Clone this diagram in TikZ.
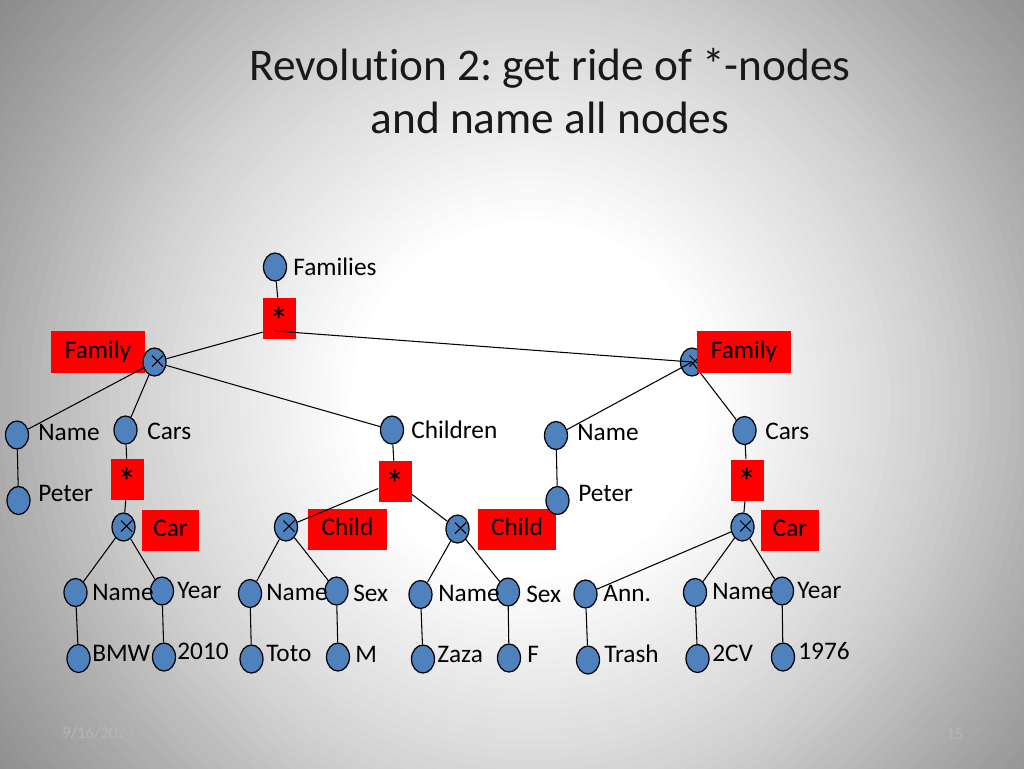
\documentclass[tikz,border=0pt]{standalone}
\usepackage{fontspec}
\setmainfont{Carlito}[Ligatures=NoCommon]
\usetikzlibrary{shapes.geometric}
\pgfdeclarelayer{bgl}\pgfdeclarelayer{boxl}\pgfdeclarelayer{linel}
\pgfsetlayers{bgl,boxl,linel,main}
\definecolor{nodeblue}{RGB}{79,129,189}
\definecolor{footgray}{RGB}{182,182,182}
\newcommand\labfont{\fontsize{14.4}{17}\selectfont}
\newcommand\starfont{\fontsize{22}{24}\selectfont}
\newcommand\titlefont{\fontsize{25.8}{31}\selectfont}
\newcommand\footfont{\fontsize{9.5}{11}\selectfont}
\newcommand\starmark{\raisebox{-0.24em}{*}}
\frenchspacing
\begin{document}
\begin{tikzpicture}[x=0.02cm,y=-0.02cm,
 bn/.style={ellipse, draw=black, line width=0.7pt, fill=nodeblue, minimum width=0.46cm, minimum height=0.56cm, inner sep=0},
 xn/.style={bn, path picture={\draw[line width=0.6pt] ([xshift=-0.05cm,yshift=0.13cm]path picture bounding box.center) -- ++(0.22cm,-0.22cm) ([xshift=0.17cm,yshift=0.13cm]path picture bounding box.center) -- ++(-0.22cm,-0.22cm);}},
 rbox/.style={fill=red, inner sep=0, text height=0.8em, text depth=0.1em, font=\labfont},
 starbox/.style={fill=red, inner sep=0, font=\starfont, text height=0.8em, text depth=0.06em, minimum width=0.66cm, minimum height=0.82cm},
 conn/.style={draw=black, line width=0.6pt},
 lab/.style={anchor=base west, inner sep=0, font=\labfont},
 ttl/.style={anchor=base, inner sep=0, font=\titlefont, text=black!90},
 foot/.style={anchor=base west, inner sep=0, font=\footfont, text=footgray},
]
\useasboundingbox (0,0) rectangle (1024,768);
\begin{pgfonlayer}{bgl}
\begin{scope}
\clip (0,0) rectangle (1024,768);
\fill[black!50] (0,0) rectangle (1024,768);
\foreach \r in {700,690,...,180}{
  \pgfmathsetmacro\g{\r>=540 ? 0.67-(\r-540)*0.13/132 : (\r>=394 ? 0.83-(\r-394)*0.16/146 : 1-(\r-180)*0.17/214)}
  \definecolor{bgc}{gray}{\g}
  \fill[bgc] (530,400) circle[radius=\r];
}
\end{scope}
\end{pgfonlayer}

% title
\node[ttl] (t1) at (550,80) {Revolution 2: get ride of *-nodes};
\node[ttl] (t2) at (550,133) {and name all nodes};

% red boxes
\begin{pgfonlayer}{boxl}
\node[rbox, minimum width=1.88cm, minimum height=0.84cm] (famLbox) at (98,352) {Family};
\node[starbox] (star1) at (279.5,318.5) {\starmark};
\node[starbox] (starCL) at (127.5,479.5) {\starmark};
\node[starbox] (starCh) at (395,481.5) {\starmark};
\node[starbox] (starCR) at (747,480) {\starmark};
\node[rbox, minimum width=1.14cm, minimum height=0.82cm] (carLbox) at (170.5,530.5) {Car};
\node[rbox, minimum width=1.58cm, minimum height=0.82cm] (childLbox) at (347.5,529.5) {Child};
\node[rbox, minimum width=1.56cm, minimum height=0.82cm] (childRbox) at (517,529.5) {Child};
\node[rbox, minimum width=1.16cm, minimum height=0.82cm] (carRbox) at (790,530.5) {Car};
\node[xn] (famR) at (692,362) {};
\end{pgfonlayer}

% blue nodes
\node[bn] (fams) at (275,267) {};
\node[xn] (famL) at (154.5,362) {};
\node[bn] (nameL) at (17,435) {};
\node[bn] (carsL) at (125.5,430) {};
\node[bn] (peterL) at (18.5,500.5) {};
\node[xn] (carL) at (123.5,527) {};
\node[bn] (children) at (392,430) {};
\node[xn] (childL) at (286,527) {};
\node[xn] (childR) at (457.5,529) {};
\node[bn] (nameR) at (556,435.5) {};
\node[bn] (peterR) at (557.5,500.5) {};
\node[bn] (carsR) at (744.5,430.5) {};
\node[xn] (carR) at (742.5,527) {};
\node[bn] (n1) at (75.5,592.5) {};
\node[bn] (y1) at (162,591) {};
\node[bn] (n2) at (250,593.5) {};
\node[bn] (s2) at (336.5,591) {};
\node[bn] (n3) at (420.5,594.5) {};
\node[bn] (s3) at (508,592) {};
\node[bn] (ann) at (585.5,594) {};
\node[bn] (n4) at (695,592.5) {};
\node[bn] (y4) at (782,591) {};
\node[bn] (bmw) at (78.5,658.5) {};
\node[bn] (v2010) at (164,657) {};
\node[bn] (toto) at (251.5,659) {};
\node[bn] (mm) at (338,657) {};
\node[bn] (zaza) at (423,659) {};
\node[bn] (ff) at (509,658) {};
\node[bn] (trash) at (588,660) {};
\node[bn] (cv) at (697.5,658.5) {};
\node[bn] (v1976) at (783,657) {};

% connectors
\begin{pgfonlayer}{linel}
\coordinate (s1p) at (275,331);
\draw[conn] (fams) -- (star1);
\draw[conn] (star1.219) -- (famL);
\draw[conn] (s1p) -- (famR.center);
\draw[conn] (famL) -- (nameL);
\draw[conn] (famL) -- (carsL);
\draw[conn] (famL) -- (children);
\draw[conn] (famR.center) -- (nameR);
\draw[conn] (famR.center) -- (carsR);
\draw[conn] (nameL) -- (peterL);
\draw[conn] (carsL) -- (starCL);
\draw[conn] (starCL) -- (carL);
\draw[conn] (children) -- (starCh);
\draw[conn] (starCh) -- (childL);
\draw[conn] (starCh) -- (childR);
\draw[conn] (nameR) -- (peterR);
\draw[conn] (carsR) -- (starCR);
\draw[conn] (starCR) -- (carR);
\draw[conn] (carL) -- (n1);
\draw[conn] (carL) -- (y1);
\draw[conn] (childL) -- (n2);
\draw[conn] (childL) -- (s2);
\draw[conn] (childR) -- (n3);
\draw[conn] (childR) -- (s3);
\draw[conn] (carR) -- (ann);
\draw[conn] (carR) -- (n4);
\draw[conn] (carR) -- (y4);
\draw[conn] (n1) -- (bmw);
\draw[conn] (y1) -- (v2010);
\draw[conn] (n2) -- (toto);
\draw[conn] (s2) -- (mm);
\draw[conn] (n3) -- (zaza);
\draw[conn] (s3) -- (ff);
\draw[conn] (ann) -- (trash);
\draw[conn] (n4) -- (cv);
\draw[conn] (y4) -- (v1976);
\end{pgfonlayer}

\node[rbox, minimum width=1.88cm, minimum height=0.84cm] (famRbox) at (744,352) {Family};

% labels
\node[lab] (tfams) at (293,275) {Families};
\node[lab] (tnameL) at (38,440) {Name};
\node[lab] (tcarsL) at (147,439) {Cars};
\node[lab] (tpeterL) at (38,501) {Peter};
\node[lab] (tchildren) at (411,438) {Children};
\node[lab] (tnameR) at (577,440) {Name};
\node[lab] (tpeterR) at (578,501) {Peter};
\node[lab] (tcarsR) at (765,439) {Cars};
\node[lab] (tn1) at (92,600) {Name};
\node[lab] (ty1) at (177,598) {Year};
\node[lab] (tn2) at (266,600) {Name};
\node[lab] (ts2) at (353,601) {Sex};
\node[lab] (tn3) at (438,601) {Name};
\node[lab] (ts3) at (526,602) {Sex};
\node[lab] (tann) at (603,601) {Ann.};
\node[lab] (tn4) at (712,599) {Name};
\node[lab] (ty4) at (797,598) {Year};
\node[lab] (tbmw) at (92,661) {BMW};
\node[lab] (t2010) at (177,659) {2010};
\node[lab] (ttoto) at (266,661) {Toto};
\node[lab] (tm) at (355,662) {M};
\node[lab] (tzaza) at (437,662) {Zaza};
\node[lab] (tf) at (527,662) {F};
\node[lab] (ttrash) at (604,662) {Trash};
\node[lab] (tcv) at (712,661) {2CV};
\node[lab] (t1976) at (798,659) {1976};

% footer
\node[foot] (date) at (62,738) {9/16/2024};
\node[foot] (page) at (946,739) {15};
\end{tikzpicture}
\end{document}
